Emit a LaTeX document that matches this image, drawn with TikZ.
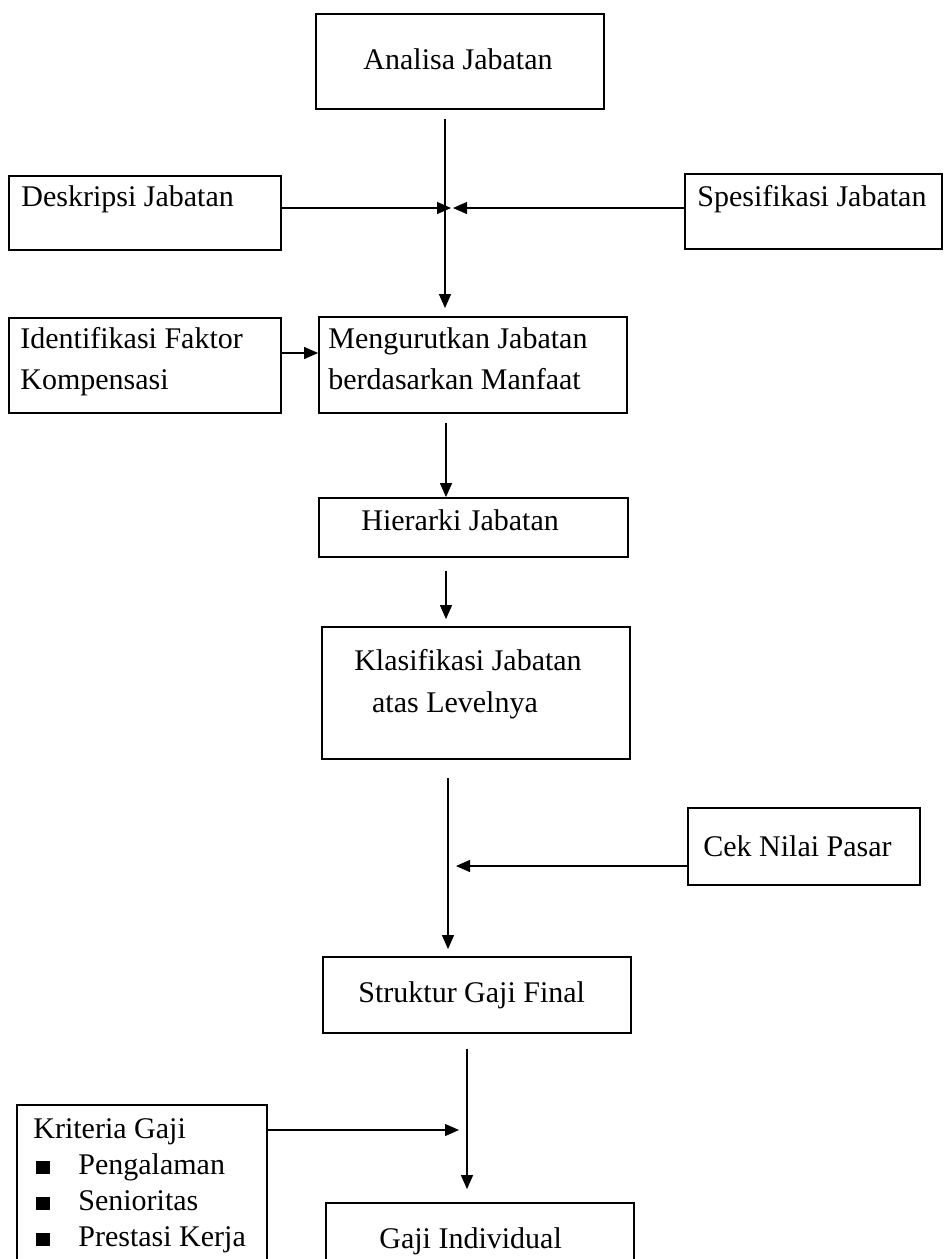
\documentclass[tikz,border=0pt]{standalone}
\usepackage{fontspec}
\setmainfont{Liberation Serif}
\usetikzlibrary{fit,arrows.meta}
\begin{document}
\begin{tikzpicture}[x=0.5pt,y=-0.5pt,
  box/.style={draw, line width=0.9pt, inner sep=0pt},
  lbl/.style={font=\fontsize{15pt}{18pt}\selectfont, inner sep=0pt},
  conn/.style={line width=0.6pt, -{Triangle[length=7pt,width=6pt]}}]
\useasboundingbox (0,0) rectangle (944,1259);
\clip (0,0) rectangle (944,1259);
\fill[white] (0,0) rectangle (944,1259);

% boxes
\node[box, fit={(316,14)(604,109)}] (anal) {};
\node[lbl, anchor=base] (tanal) at (458,69) {Analisa Jabatan};

\node[box, fit={(9,176)(281,250)}] (desk) {};
\node[lbl, anchor=base west] (tdesk) at (21,206) {Deskripsi Jabatan};

\node[box, fit={(685,174)(942,249)}] (spes) {};
\node[lbl, anchor=base west] (tspes) at (697,206) {Spesifikasi Jabatan};

\node[box, fit={(9,318)(281,413)}] (iden) {};
\node[lbl, anchor=base west] (tiden1) at (20,348) {Identifikasi Faktor};
\node[lbl, anchor=base west] (tiden2) at (20,389) {Kompensasi};

\node[box, fit={(319,317)(627,413)}] (meng) {};
\node[lbl, anchor=base west] (tmeng1) at (328,348) {Mengurutkan Jabatan};
\node[lbl, anchor=base west] (tmeng2) at (328,389) {berdasarkan Manfaat};

\node[box, fit={(319,498)(628,557)}] (hier) {};
\node[lbl, anchor=base west] (thier) at (361,530) {Hierarki Jabatan};

\node[box, fit={(322,627)(630,759)}] (klas) {};
\node[lbl, anchor=base] (tklas1) at (468,670) {Klasifikasi Jabatan};
\node[lbl, anchor=base] (tklas2) at (455,712) {atas Levelnya};

\node[box, fit={(688,808)(920,885)}] (cek) {};
\node[lbl, anchor=base west] (tcek) at (703,856) {Cek Nilai Pasar};

\node[box, fit={(323,957)(631,1033)}] (stru) {};
\node[lbl, anchor=base west] (tstru) at (358,1002) {Struktur Gaji Final};

\node[box, fit={(326,1203)(634,1290)}] (gaji) {};
\node[lbl, anchor=base west] (tgaji) at (379,1248) {Gaji Individual};

\node[box, fit={(17,1105)(267,1290)}] (krit) {};
\node[lbl, anchor=base west] (tkrit0) at (33,1138) {Kriteria Gaji};
\node[lbl, anchor=base west] (tkrit1) at (36,1174) {\rule{7pt}{6.5pt}\hspace{14pt}Pengalaman};
\node[lbl, anchor=base west] (tkrit2) at (36,1210) {\rule{7pt}{6.5pt}\hspace{14pt}Senioritas};
\node[lbl, anchor=base west] (tkrit3) at (36,1246) {\rule{7pt}{6.5pt}\hspace{14pt}Prestasi Kerja};

% connector coordinates
\coordinate (j1) at (445,208);
\coordinate (j2) at (0,353);
\coordinate (x2) at (446,0);
\coordinate (x3) at (448,0);
\coordinate (j3) at (456,866);
\coordinate (x4) at (467,0);
\coordinate (j4) at (459,1130);

% connectors
\draw[conn, shorten <=4.5pt, shorten >=4pt] (anal.south -| j1) -- (meng.north -| j1);
\draw[conn] (desk.east |- j1) -- ([xshift=3pt]j1);
\draw[conn] (spes.west |- j1) -- ([xshift=4pt]j1);
\draw[conn] (iden.east |- j2) -- (meng.west |- j2);
\draw[conn, shorten <=4.5pt] (meng.south -| x2) -- (hier.north -| x2);
\draw[conn, shorten <=6.5pt, shorten >=3.5pt] (hier.south -| x2) -- (klas.north -| x2);
\draw[conn, shorten <=9pt, shorten >=3.5pt] (klas.south -| x3) -- (stru.north -| x3);
\draw[conn] (cek.west |- j3) -- (j3);
\draw[conn, shorten <=7.5pt, shorten >=6.5pt] (stru.south -| x4) -- (gaji.north -| x4);
\draw[conn] (krit.east |- j4) -- (j4);
\end{tikzpicture}
\end{document}
